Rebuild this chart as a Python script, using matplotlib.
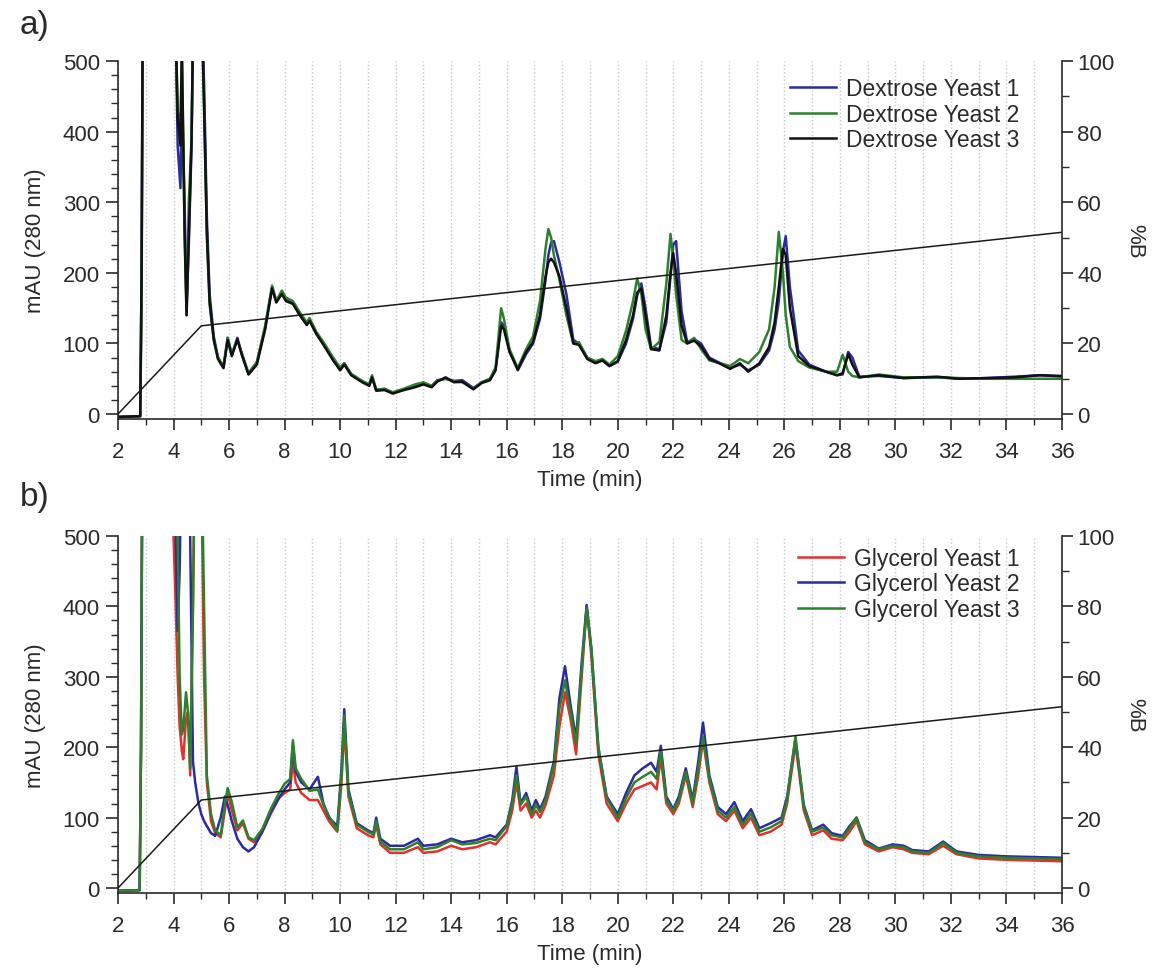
import matplotlib
matplotlib.use('Agg')
import matplotlib.pyplot as plt
from matplotlib.ticker import MultipleLocator

plt.rcParams['font.family'] = ['Liberation Sans', 'DejaVu Sans']

# ---- panel a) dextrose ----
T_DEX = [2.0, 2.8, 2.85, 2.9, 4.0, 4.05, 4.15, 4.25, 4.3, 4.4, 4.47, 4.55, 4.65, 4.72, 4.8,
         5.0, 5.1, 5.2, 5.3, 5.45, 5.6, 5.8, 5.95, 6.1, 6.3, 6.45, 6.7, 7.0, 7.3, 7.55,
         7.7, 7.9, 8.05, 8.3, 8.55, 8.8, 8.9, 9.15, 9.4, 9.75, 10.0, 10.15, 10.4, 10.8, 11.05,
         11.15, 11.3, 11.6, 11.9, 12.3, 12.7, 13.0, 13.3, 13.5, 13.8, 14.1, 14.4, 14.8, 15.1, 15.4,
         15.6, 15.8, 15.9, 16.1, 16.4, 16.7, 16.95, 17.2, 17.4, 17.5, 17.6, 17.7, 17.9, 18.15, 18.4,
         18.6, 18.9, 19.2, 19.45, 19.7, 20.0, 20.3, 20.55, 20.7, 20.85, 21.0, 21.2, 21.5, 21.75, 21.9,
         22.0, 22.1, 22.3, 22.5, 22.75, 23.0, 23.3, 23.7, 24.05, 24.4, 24.7, 25.1, 25.45, 25.65, 25.8,
         25.95, 26.05, 26.2, 26.5, 26.9, 27.5, 27.9, 28.1, 28.3, 28.45, 28.7, 29.4, 30.3, 31.5, 32.3,
         33.3, 34.3, 35.2, 36.0]
DEX_Y1 = [-4, -3, 200, 650, 650, 600, 380, 320, 450, 300, 150, 240, 380, 600, 650,
          600, 470, 280, 170, 110, 80, 66, 108, 84, 108, 86, 57, 72, 122, 180,
          160, 172, 162, 158, 140, 128, 133, 114, 100, 77, 63, 72, 56, 46, 41,
          52, 34, 36, 30, 35, 40, 43, 40, 48, 50, 47, 48, 37, 45, 50,
          64, 130, 125, 90, 62, 85, 100, 135, 190, 225, 243, 245, 215, 170, 105,
          100, 80, 73, 76, 68, 74, 100, 135, 168, 185, 150, 95, 92, 130, 195,
          240, 245, 145, 102, 106, 100, 80, 72, 65, 70, 62, 70, 90, 120, 160,
          230, 252, 180, 90, 70, 60, 55, 56, 88, 80, 53, 54, 51, 52, 50,
          51, 53, 55, 53]
DEX_Y2 = [-4, -3, 150, 650, 650, 600, 430, 400, 520, 250, 140, 300, 390, 600, 650,
          600, 430, 250, 155, 105, 80, 68, 108, 85, 105, 88, 58, 74, 125, 182,
          160, 175, 165, 160, 144, 130, 136, 116, 102, 80, 66, 72, 57, 47, 42,
          55, 35, 35, 31, 36, 42, 45, 40, 47, 50, 46, 45, 36, 45, 50,
          66, 150, 135, 92, 65, 92, 110, 160, 235, 262, 250, 225, 190, 140, 100,
          102, 80, 75, 78, 70, 82, 118, 160, 192, 170, 120, 92, 102, 185, 255,
          220, 170, 105, 100, 108, 92, 76, 72, 68, 78, 72, 88, 120, 180, 258,
          200, 140, 95, 75, 66, 60, 60, 84, 60, 54, 52, 56, 52, 52, 51,
          50, 50, 50, 50]
DEX_Y3 = [-4, -3, 200, 650, 650, 600, 420, 380, 520, 260, 140, 250, 390, 600, 650,
          600, 440, 260, 160, 105, 78, 65, 105, 82, 106, 85, 56, 70, 120, 178,
          158, 170, 160, 156, 140, 126, 132, 113, 98, 76, 62, 70, 55, 45, 40,
          52, 33, 34, 29, 34, 38, 42, 38, 46, 52, 45, 46, 35, 44, 48,
          62, 125, 120, 88, 63, 88, 102, 140, 195, 215, 220, 215, 195, 150, 100,
          98, 78, 72, 76, 68, 75, 105, 140, 172, 178, 140, 92, 90, 140, 200,
          228, 200, 125, 100, 104, 96, 78, 71, 64, 72, 60, 72, 95, 130, 180,
          234, 225, 150, 82, 68, 60, 55, 58, 85, 70, 52, 55, 51, 53, 50,
          51, 52, 55, 54]

# ---- panel b) glycerol ----
T_GLY = [2.0, 2.78, 2.83, 2.88, 3.95, 4.0, 4.08, 4.15, 4.22, 4.3, 4.35, 4.45, 4.52, 4.6, 4.7,
         4.78, 4.9, 5.0, 5.1, 5.2, 5.35, 5.5, 5.7, 5.85, 5.95, 6.1, 6.3, 6.5, 6.7, 6.9,
         7.2, 7.5, 7.8, 8.0, 8.2, 8.3, 8.4, 8.6, 8.9, 9.2, 9.4, 9.6, 9.9, 10.05, 10.15,
         10.3, 10.6, 11.0, 11.2, 11.3, 11.45, 11.8, 12.3, 12.8, 13.0, 13.5, 14.0, 14.4, 14.9, 15.4,
         15.6, 16.0, 16.2, 16.35, 16.5, 16.7, 16.9, 17.05, 17.2, 17.4, 17.7, 17.9, 18.1, 18.3, 18.5,
         18.7, 18.88, 19.05, 19.3, 19.6, 20.0, 20.3, 20.6, 20.9, 21.2, 21.4, 21.55, 21.75, 22.0, 22.2,
         22.45, 22.7, 22.9, 23.07, 23.3, 23.6, 23.9, 24.2, 24.5, 24.8, 25.1, 25.5, 25.9, 26.1, 26.4,
         26.7, 27.0, 27.4, 27.7, 28.1, 28.35, 28.6, 28.9, 29.4, 29.9, 30.3, 30.6, 31.2, 31.72, 32.2,
         33.0, 34.0, 35.0, 36.0]
GLY_Y1 = [-4, -3, 200, 650, 650, 500, 400, 300, 230, 195, 183, 240, 250, 160, 400,
          650, 650, 600, 300, 150, 95, 78, 72, 110, 135, 110, 82, 92, 70, 65,
          80, 105, 128, 135, 140, 180, 150, 135, 125, 125, 110, 95, 80, 150, 230,
          130, 85, 75, 72, 90, 62, 50, 50, 58, 50, 52, 60, 55, 58, 65,
          62, 80, 110, 150, 110, 120, 100, 110, 100, 118, 160, 230, 278, 240, 190,
          300, 400, 330, 190, 120, 95, 120, 140, 145, 150, 140, 185, 120, 105, 120,
          160, 115, 160, 210, 150, 105, 95, 110, 85, 100, 75, 80, 90, 120, 205,
          110, 75, 82, 70, 68, 80, 95, 62, 52, 58, 55, 50, 48, 60, 48,
          42, 40, 39, 38]
GLY_Y2 = [-4, -3, 200, 650, 650, 650, 500, 365, 450, 650, 650, 650, 650, 500, 180,
          150, 120, 105, 95, 88, 78, 74, 100, 130, 118, 95, 70, 58, 52, 58,
          80, 108, 128, 140, 150, 205, 165, 150, 140, 158, 120, 100, 88, 170, 254,
          140, 92, 82, 78, 100, 70, 60, 60, 70, 60, 62, 70, 65, 68, 75,
          72, 90, 125, 172, 120, 135, 110, 125, 112, 130, 180, 270, 315, 260, 212,
          320, 402, 340, 200, 130, 105, 135, 160, 170, 178, 165, 202, 130, 112, 130,
          170, 125, 180, 235, 160, 115, 105, 122, 95, 112, 85, 92, 100, 130, 212,
          118, 82, 90, 78, 74, 88, 100, 68, 56, 62, 60, 54, 52, 66, 52,
          47, 45, 44, 43]
GLY_Y3 = [-4, -3, 200, 650, 650, 650, 650, 500, 300, 218, 225, 278, 250, 170, 400,
          650, 650, 650, 400, 160, 105, 82, 75, 120, 142, 122, 86, 96, 72, 68,
          84, 112, 135, 148, 155, 210, 170, 155, 138, 140, 118, 102, 82, 160, 245,
          135, 90, 80, 76, 95, 66, 55, 55, 65, 55, 58, 68, 62, 64, 70,
          68, 88, 120, 160, 118, 130, 105, 118, 108, 125, 175, 255, 295, 250, 205,
          310, 398, 340, 200, 128, 100, 128, 150, 158, 165, 155, 195, 125, 110, 125,
          165, 120, 170, 215, 155, 110, 100, 115, 90, 106, 80, 86, 95, 125, 215,
          115, 80, 86, 75, 72, 85, 100, 65, 55, 60, 58, 52, 50, 64, 50,
          45, 43, 42, 41]

# solvent gradient (%B)
GRAD_T = [2, 5, 36]
GRAD_B = [0, 25, 51.5]

DEX_LABELS = ['Dextrose Yeast 1', 'Dextrose Yeast 2', 'Dextrose Yeast 3']
GLY_LABELS = ['Glycerol Yeast 1', 'Glycerol Yeast 2', 'Glycerol Yeast 3']
DEX_COLORS = ['#2b2ba0', '#2e7f2e', '#111111']
GLY_COLORS = ['#e3302a', '#2b2ba0', '#2e7f2e']

TXT = '#2a2a2a'


def draw_panel(ax, t, series, labels, colors, leg_y):
    ax.set_xlim(2, 36)
    ax.set_ylim(-7, 500)
    ax.xaxis.set_major_locator(MultipleLocator(2))
    ax.xaxis.set_minor_locator(MultipleLocator(1))
    ax.yaxis.set_major_locator(MultipleLocator(100))
    ax.yaxis.set_minor_locator(MultipleLocator(20))
    ax.grid(True, which='both', axis='x', ls=':', color='#c3c7d6', lw=1.0)
    ax.set_axisbelow(True)

    lines = []
    for y, lab, c in zip(series, labels, colors):
        ln, = ax.plot(t, y, color=c, lw=1.8, label=lab)
        lines.append(ln)

    ax.set_ylabel('mAU (280 nm)', fontsize=16, color=TXT, labelpad=12)
    ax.set_xlabel('Time (min)', fontsize=16, color=TXT, labelpad=5)
    ax.tick_params(which='major', length=9, width=1.2, colors=TXT, labelsize=16, pad=4)
    ax.tick_params(which='minor', length=5, width=1.0, colors=TXT)
    ax.tick_params(axis='x', which='major', length=8, pad=8)
    ax.tick_params(axis='x', which='minor', length=4)
    for s in ['top', 'right']:
        ax.spines[s].set_visible(False)
    for s in ['left', 'bottom']:
        ax.spines[s].set_linewidth(1.2)
        ax.spines[s].set_color(TXT)

    ax2 = ax.twinx()
    ax2.set_ylim(-1.4, 100)
    ax2.plot(GRAD_T, GRAD_B, color='#1a1a1a', lw=1.1)
    ax2.yaxis.set_major_locator(MultipleLocator(20))
    ax2.yaxis.set_minor_locator(MultipleLocator(10))
    ax2.tick_params(which='major', length=8, width=1.2, colors=TXT, labelsize=16, pad=3)
    ax2.tick_params(which='minor', length=5, width=1.0, colors=TXT)
    ax2.set_ylabel('%B', fontsize=16, color=TXT, rotation=270, labelpad=22)
    for s in ['top', 'left', 'bottom']:
        ax2.spines[s].set_visible(False)
    ax2.spines['right'].set_linewidth(1.2)
    ax2.spines['right'].set_color(TXT)

    ax2.legend(lines, labels, loc='upper right', bbox_to_anchor=(0.965, leg_y),
               frameon=False, fontsize=16.5, handlelength=2.0, handletextpad=0.45,
               labelspacing=0.1, borderaxespad=0, labelcolor=TXT)


fig = plt.figure(figsize=(11.59, 9.70), dpi=100)
ax_a = fig.add_axes([0.1018, 0.567, 0.8145, 0.369])
ax_b = fig.add_axes([0.1018, 0.0784, 0.8145, 0.368])

draw_panel(ax_a, T_DEX, [DEX_Y1, DEX_Y2, DEX_Y3], DEX_LABELS, DEX_COLORS, 0.98)
draw_panel(ax_b, T_GLY, [GLY_Y1, GLY_Y2, GLY_Y3], GLY_LABELS, GLY_COLORS, 0.995)

fig.text(0.017, 0.974, 'a)', fontsize=24, color=TXT, va='center')
fig.text(0.017, 0.487, 'b)', fontsize=24, color=TXT, va='center')

fig.savefig('out.png', dpi=100)
